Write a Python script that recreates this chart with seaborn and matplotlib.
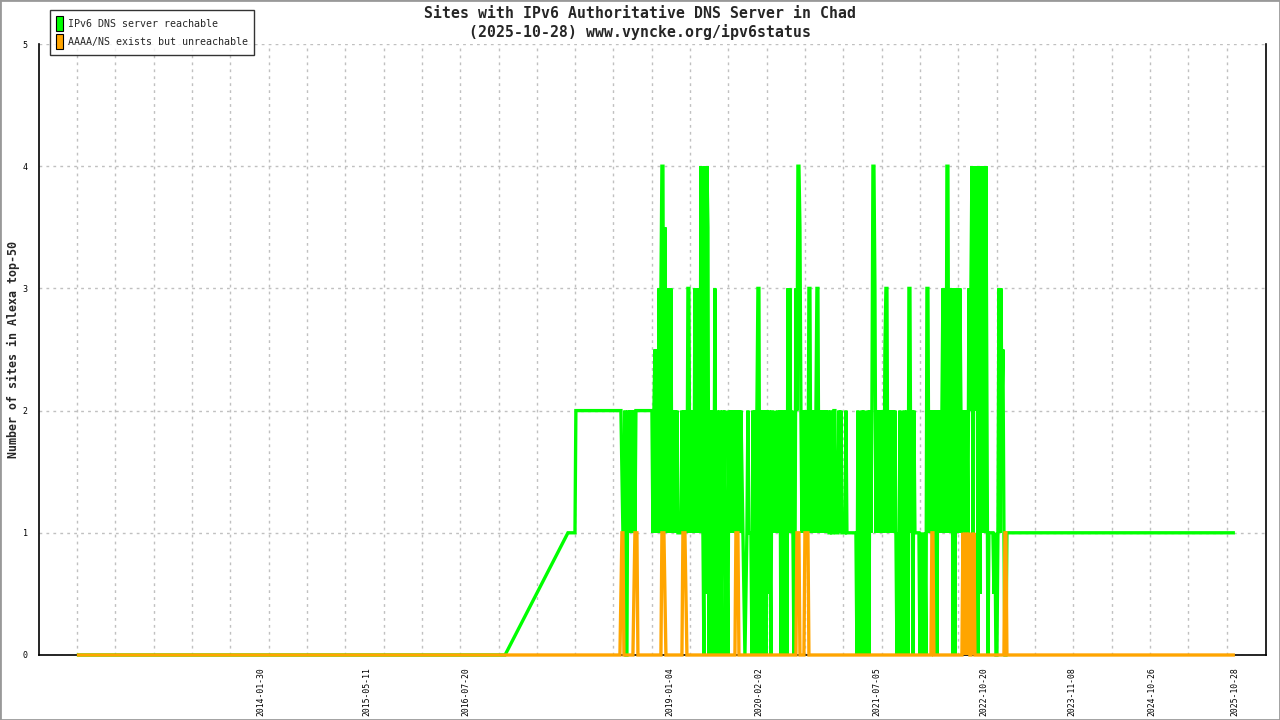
import matplotlib
matplotlib.use("Agg")
import matplotlib.pyplot as plt
import matplotlib.dates as mdates
from matplotlib.patches import Patch, Rectangle
from matplotlib.ticker import FixedLocator, FixedFormatter
import pandas as pd
import seaborn as sns

TITLE_1 = "Sites with IPv6 Authoritative DNS Server in Chad"
TITLE_2 = "(2025-10-28) www.vyncke.org/ipv6status"
YLABEL = "Number of sites in Alexa top-50"
SERIES = ["IPv6 DNS server reachable", "AAAA/NS exists but unreachable"]
COLORS = ["#00ff00", "#ffa500"]

# sparse points before / after the noisy period
green_head_dates = ["2011-11-10", "2017-01-08", "2017-10-12", "2017-11-12", "2017-11-16"]
green_head_vals = [0, 0, 1, 1, 2]
green_tail_dates = ["2025-10-28"]
green_tail_vals = [1]
orange_head_dates = ["2011-11-10"]
orange_head_vals = [0]
orange_tail_dates = ["2025-10-28"]
orange_tail_vals = [0]

# noisy period, evenly spaced samples; 'a','b','c','d' stand for 0.5, 1.5, 2.5, 3.5
dense_start = "2018-05-29"
dense_end = "2023-02-10"
green_dense = (
    "22b1120021" "2121212222" "2222222222" "22212c1c13" "13441d1313"
    "1312121211" "1121212133" "1212131313" "143104a4d0" "2120130210"
    "2102120102" "1212121212" "12b1a0a121" "1102020233" "02a20202a2"
    "1021b2b121" "2021202031" "31210a3244" "d212121213" "3121212331"
    "2121212121" "1211221112" "1211112111" "1111111020" "1020201020"
    "2124431212" "12121c3312" "1212121010" "2010201203" "3120211111"
    "0101010331" "21202a2021" "2123131441" "3130303131" "3212121213"
    "2341423404" "a341414201" "1111a10013" "132c100111" "1"
)
orange_dense = (
    "0a11000000" "0000a11100" "0000000000" "0000000000" "00111a0000"
    "0000000000" "000111a000" "0000000000" "0000000000" "0000000000"
    "0000000000" "0000001110" "0000000000" "0000000000" "0000000000"
    "0000000000" "0000000000" "0000000111" "0000011110" "0000000000"
    "0000000000" "0000000000" "0000000000" "0000000000" "0000000000"
    "0000000000" "0000000000" "0000000000" "0000000000" "0000000000"
    "0000000000" "0011000000" "0000000000" "0000000000" "0001010101"
    "0010100000" "0000000000" "0000000000" "0000011000" "0"
)
CODE = {"0": 0, "1": 1, "2": 2, "3": 3, "4": 4, "a": 0.5, "b": 1.5, "c": 2.5, "d": 3.5}

xtick_dates = ["2014-01-30", "2015-05-11", "2016-07-20", "2019-01-04", "2020-02-02",
               "2021-07-05", "2022-10-20", "2023-11-08", "2024-10-26", "2025-10-28"]
grid_start = "2011-11-10"
grid_count = 31
grid_step = "4052h"
x_min, x_max = "2011-05-27", "2026-03-14"


def build(name, hd, hv, dense, td, tv):
    ddates = pd.date_range(dense_start, dense_end, periods=len(dense))
    dates = list(pd.to_datetime(hd)) + list(ddates) + list(pd.to_datetime(td))
    vals = list(hv) + [CODE[c] for c in dense] + list(tv)
    return pd.DataFrame({"date": dates, "value": vals, "series": name})


df = pd.concat([
    build(SERIES[0], green_head_dates, green_head_vals, green_dense, green_tail_dates, green_tail_vals),
    build(SERIES[1], orange_head_dates, orange_head_vals, orange_dense, orange_tail_dates, orange_tail_vals),
], ignore_index=True)

sns.set_theme(style="white")
MONO = ["DejaVu Sans Mono"]
plt.rcParams["font.family"] = MONO

fig = plt.figure(figsize=(12.8, 7.2), dpi=100)
ax = fig.add_axes([39 / 1280, 65 / 720, (1266 - 39) / 1280, (655 - 44) / 720])

sns.lineplot(data=df, x="date", y="value", hue="series", hue_order=SERIES,
             palette=COLORS, estimator=None, sort=False, linewidth=2.4,
             legend=False, ax=ax)
for i, ln in enumerate(ax.get_lines()):
    ln.set_clip_on(False)
    ln.set_zorder(3 + i)
    ln.set_solid_joinstyle("miter")
    ln.set_solid_capstyle("butt")

ax.set_xlim(pd.Timestamp(x_min), pd.Timestamp(x_max))
ax.set_ylim(0, 5)

# x axis: labelled dates without marks, regular minor marks carrying the grid
major = mdates.date2num(pd.to_datetime(xtick_dates))
ax.xaxis.set_major_locator(FixedLocator(major))
ax.xaxis.set_major_formatter(FixedFormatter(xtick_dates))
minor = mdates.date2num(pd.date_range(grid_start, periods=grid_count, freq=grid_step))
ax.xaxis.set_minor_locator(FixedLocator(minor))
ax.tick_params(axis="x", which="major", length=0, pad=8.5, labelsize=5.9,
               labelrotation=90, colors="black")
ax.tick_params(axis="x", which="minor", length=5, direction="inout", width=1, colors="black")
for lab in ax.get_xticklabels():
    lab.set_va("top")

ax.set_yticks([0, 1, 2, 3, 4, 5])
ax.tick_params(axis="y", which="major", length=7, direction="inout", width=1,
               pad=4.5, labelsize=6, colors="black")

ax.grid(False)
ax.grid(True, axis="x", which="minor", color="#c0c0c0", linestyle=(0, (2, 3)), linewidth=1)
ax.grid(True, axis="y", which="major", color="#c0c0c0", linestyle=(0, (2, 3)), linewidth=1)
ax.set_axisbelow(True)

for side in ["left", "bottom", "right"]:
    ax.spines[side].set_visible(True)
    ax.spines[side].set_color("black")
    ax.spines[side].set_linewidth(1.2)
ax.spines["top"].set_visible(False)

ax.set_xlabel("")
ax.set_ylabel("")
fig.text(13 / 1280, 1 - 349.5 / 720, YLABEL, rotation=90, ha="center", va="center",
         fontsize=8.4, fontweight="bold", family=MONO)

fig.text(0.5, 1 - 13 / 720, TITLE_1, ha="center", va="center", fontsize=10.7,
         fontweight="bold", family=MONO)
fig.text(0.5, 1 - 32 / 720, TITLE_2, ha="center", va="center", fontsize=10.7,
         fontweight="bold", family=MONO)

handles = [Patch(facecolor=c, edgecolor="black", linewidth=0.8, label=s) for s, c in zip(SERIES, COLORS)]
leg = fig.legend(handles=handles, loc="upper left", bbox_to_anchor=(50 / 1280, 1 - 10 / 720),
                 borderaxespad=0, frameon=True, fancybox=False, edgecolor="black",
                 prop={"family": MONO, "size": 7.2}, handlelength=0.65, handleheight=2.0,
                 handletextpad=0.5, labelspacing=0.25, borderpad=0.6)
leg.get_frame().set_linewidth(1.0)

fig.add_artist(Rectangle((0, 0), 1, 1, transform=fig.transFigure, fill=False,
                         edgecolor="#999999", linewidth=2))

fig.savefig("out.png", dpi=100)
